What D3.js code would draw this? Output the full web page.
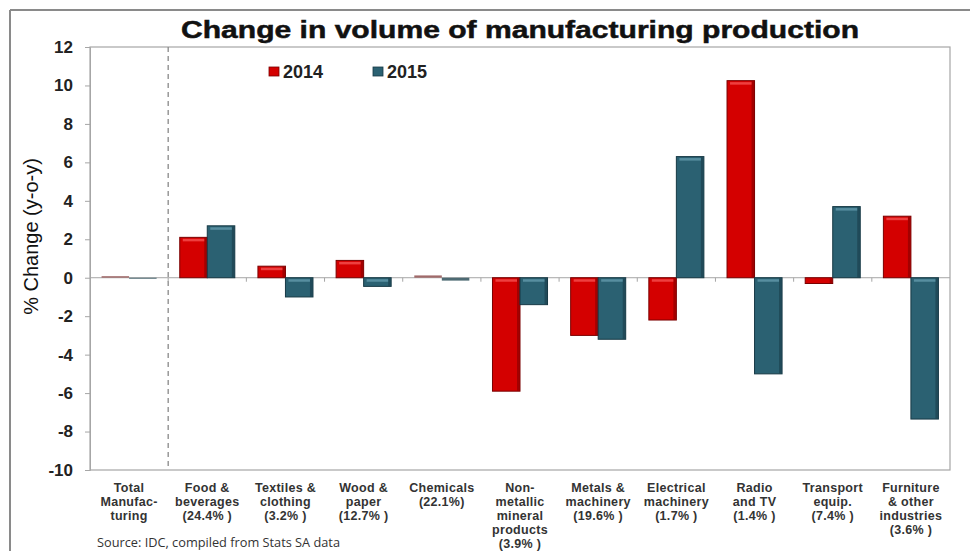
<!DOCTYPE html>
<html>
<head>
<meta charset="utf-8">
<script src="https://cdn.jsdelivr.net/npm/d3@7"></script>
<style>
  html, body { margin: 0; padding: 0; background: #fff; }
  svg { display: block; font-family: "Liberation Sans", Arial, sans-serif; }
</style>
</head>
<body>
<svg id="chart" width="970" height="551"></svg>
<script>
// Sector labels (line-broken as printed under the axis)
const categories = [
  ["Total", "Manufac-", "turing"],
  ["Food &", "beverages", "(24.4% )"],
  ["Textiles &", "clothing", "(3.2% )"],
  ["Wood &", "paper", "(12.7% )"],
  ["Chemicals", "(22.1%)"],
  ["Non-", "metallic", "mineral", "products", "(3.9% )"],
  ["Metals &", "machinery", "(19.6% )"],
  ["Electrical", "machinery", "(1.7% )"],
  ["Radio", "and TV", "(1.4% )"],
  ["Transport", "equip.", "(7.4% )"],
  ["Furniture", "& other", "industries", "(3.6% )"]
];

const seriesNames = ["2014", "2015"];
const values2014 = [0.08, 2.1, 0.6, 0.9, 0.12, -5.9, -3.0, -2.2, 10.25, -0.3, 3.2];
const values2015 = [-0.05, 2.7, -1.0, -0.45, -0.15, -1.4, -3.2, 6.3, -5.0, 3.7, -7.35];

const yTicks = [12, 10, 8, 6, 4, 2, 0, -2, -4, -6, -8, -10];

const colors = {
  "2014": { fill: "#d40000", edge: "#7a0000", light: "#f24a4a" },
  "2015": { fill: "#2b6172", edge: "#173945", light: "#5f97a8" }
};

const svg = d3.select("#chart");
const W = 970, H = 551;
const plot = { left: 90, right: 950, top: 47, bottom: 470 };

// Outer frame (top and left edges)
svg.append("line").attr("x1", 10).attr("x2", W).attr("y1", 10).attr("y2", 10)
  .attr("stroke", "#8a8a8a").attr("stroke-width", 2);
svg.append("line").attr("x1", 10).attr("x2", 10).attr("y1", 10).attr("y2", H)
  .attr("stroke", "#8a8a8a").attr("stroke-width", 2);

// Title
svg.append("text")
  .attr("x", 520).attr("y", 38)
  .attr("text-anchor", "middle")
  .attr("font-size", 24).attr("font-weight", 900)
  .attr("textLength", 678).attr("lengthAdjust", "spacingAndGlyphs")
  .attr("fill", "#111")
  .attr("stroke", "#111").attr("stroke-width", 0.5)
  .text("Change in volume of manufacturing production");

const x0 = d3.scaleBand()
  .domain(d3.range(categories.length))
  .range([plot.left, plot.right])
  .paddingInner(0).paddingOuter(0);

const barW = x0.bandwidth() * 0.352;
const x1 = d3.scaleBand()
  .domain(seriesNames)
  .range([x0.bandwidth() / 2 - barW, x0.bandwidth() / 2 + barW]);

const y = d3.scaleLinear().domain([-10, 12]).range([plot.bottom, plot.top]);

// Plot area frame
svg.append("rect")
  .attr("x", plot.left).attr("y", plot.top)
  .attr("width", plot.right - plot.left).attr("height", plot.bottom - plot.top)
  .attr("fill", "none").attr("stroke", "#a6a6a6").attr("stroke-width", 1.2);

// Y axis (plain hyphen minus signs)
const yAxis = d3.axisLeft(y).tickValues(yTicks).tickSize(5).tickPadding(12)
  .tickFormat(d => String(d));
const yg = svg.append("g").attr("transform", `translate(${plot.left},0)`).call(yAxis);
yg.select(".domain").attr("stroke", "#a6a6a6");
yg.selectAll(".tick line").attr("stroke", "#a6a6a6");
yg.selectAll(".tick text")
  .attr("font-size", 17).attr("font-weight", "bold").attr("fill", "#222")
  .attr("font-family", "Liberation Sans, Arial, sans-serif");

// Y axis title
svg.append("text")
  .attr("transform", `translate(38,${(plot.top + plot.bottom) / 2 - 22}) rotate(-90)`)
  .attr("text-anchor", "middle")
  .attr("font-size", 20).attr("fill", "#111")
  .text("% Change (y-o-y)");

// Separator between total and sectors
svg.append("line")
  .attr("x1", x0(1)).attr("x2", x0(1))
  .attr("y1", plot.top).attr("y2", plot.bottom)
  .attr("stroke", "#888").attr("stroke-width", 1.3)
  .attr("stroke-dasharray", "5,4");

// Zero line with category ticks
svg.append("line")
  .attr("x1", plot.left).attr("x2", plot.right)
  .attr("y1", y(0)).attr("y2", y(0))
  .attr("stroke", "#a6a6a6").attr("stroke-width", 1);
svg.append("g").selectAll("line")
  .data(d3.range(1, categories.length))
  .join("line")
  .attr("x1", d => x0(d)).attr("x2", d => x0(d))
  .attr("y1", y(0)).attr("y2", y(0) + 4)
  .attr("stroke", "#a6a6a6");

// Bars
const data = [];
categories.forEach((c, i) => {
  data.push({ i, s: "2014", v: values2014[i] });
  data.push({ i, s: "2015", v: values2015[i] });
});

const bars = svg.append("g").selectAll("g.bar").data(data).join("g").attr("class", "bar");
bars.each(function(d) {
  const g = d3.select(this);
  const bx = x0(d.i) + x1(d.s);
  const bw = x1.bandwidth();
  const top = Math.min(y(d.v), y(0));
  const h = Math.abs(y(d.v) - y(0));
  const c = colors[d.s];
  const small = h < 3;
  g.append("rect")
    .attr("x", bx).attr("y", top).attr("width", bw).attr("height", Math.max(h, 1))
    .attr("fill", small ? (d.s === "2014" ? "#a06a6a" : "#4d6a73") : c.fill)
    .attr("stroke", small ? "none" : c.edge).attr("stroke-width", 1);
  if (!small) {
    // darker right edge for depth
    g.append("rect")
      .attr("x", bx + bw - 3).attr("y", top + 0.5).attr("width", 2.5).attr("height", Math.max(h - 1, 0))
      .attr("fill", c.edge).attr("opacity", 0.55);
    // bevel highlight along the top
    if (h > 6) {
      g.append("rect")
        .attr("x", bx + 3).attr("y", top + 1.5).attr("width", bw - 6).attr("height", 2.5)
        .attr("fill", c.light).attr("opacity", 0.85);
    }
  }
});

// Category labels
const labels = svg.append("g").selectAll("text").data(categories).join("text")
  .attr("text-anchor", "middle")
  .attr("font-size", 12.5).attr("font-weight", "bold").attr("fill", "#333")
  .attr("font-family", "Liberation Sans, Arial, sans-serif")
  .attr("letter-spacing", 0.3);
labels.each(function(lines, i) {
  const t = d3.select(this);
  lines.forEach((ln, k) => {
    t.append("tspan")
      .attr("x", x0(i) + x0.bandwidth() / 2)
      .attr("y", 492 + k * 14)
      .text(ln);
  });
});

// Legend
const legend = svg.append("g");
[["2014", 269], ["2015", 373]].forEach(([s, lx]) => {
  legend.append("rect").attr("x", lx).attr("y", 67).attr("width", 10).attr("height", 9)
    .attr("fill", colors[s].fill).attr("stroke", colors[s].edge).attr("stroke-width", 0.8);
  legend.append("text").attr("x", lx + 14).attr("y", 78)
    .attr("font-size", 18).attr("font-weight", "bold").attr("fill", "#222")
    .text(s);
});

// Source note
svg.append("text")
  .attr("x", 97).attr("y", 547)
  .attr("font-size", 12.5).attr("fill", "#333")
  .attr("font-family", "Open Sans, Noto Sans, sans-serif")
  .attr("textLength", 243).attr("lengthAdjust", "spacingAndGlyphs")
  .text("Source: IDC, compiled from Stats SA data");
</script>
</body>
</html>
